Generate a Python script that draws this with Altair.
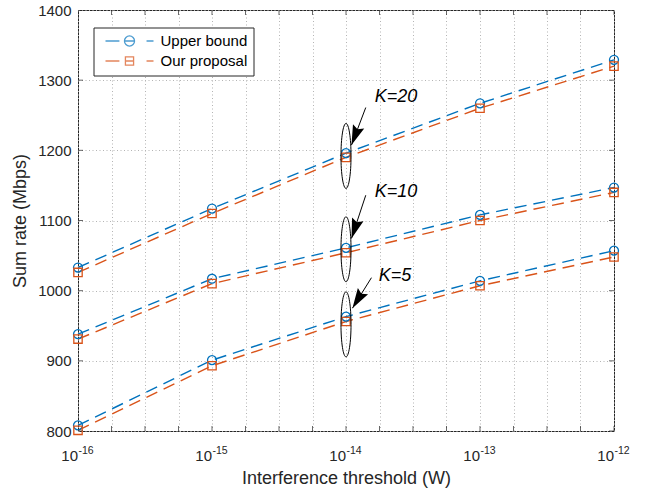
import altair as alt
import pandas as pd

# ---------------- data ----------------
x_exp = [-16, -15, -14, -13, -12]
k_groups = ["K=5", "K=10", "K=20"]
series_names = ["Upper bound", "Our proposal"]
series_colors = ["#0072BD", "#D95319"]

upper_k5 = [808, 901, 963, 1014, 1057]
prop_k5 = [801, 893, 956, 1007, 1048]
upper_k10 = [938, 1017, 1061, 1108, 1147]
prop_k10 = [931, 1010, 1054, 1100, 1140]
upper_k20 = [1033, 1117, 1196, 1267, 1329]
prop_k20 = [1026, 1110, 1190, 1260, 1320]

x_tick_exp = [-16, -15.75, -15.5, -15.25, -15, -14.75, -14.5, -14.25, -14,
              -13.75, -13.5, -13.25, -13, -12.75, -12.5, -12.25, -12]
x_major_exp = [-16, -15, -14, -13, -12]
x_label_base = "10"
x_label_exponents = ["-16", "-15", "-14", "-13", "-12"]
y_ticks = [800, 900, 1000, 1100, 1200, 1300, 1400]

# annotations (data coordinates)
ann_labels = ["K=20", "K=10", "K=5"]
ann_text_exp = [-13.785, -13.785, -13.755]
ann_text_y = [1269, 1133.5, 1014]
arrow_tail_exp = [-13.8525, -13.8525, -13.81]
arrow_tail_y = [1261, 1136, 1018.5]
arrow_tip_exp = [-13.959, -13.959, -13.952]
arrow_tip_y = [1207.5, 1074.5, 975]
arrow_angle = [200.8, 198.3, 211.8]
ellipse_exp = [-14, -14, -14]
ellipse_y = [1192, 1059, 952]

# ---------------- tables ----------------
series_vals = {
    ("K=5", "Upper bound"): upper_k5, ("K=5", "Our proposal"): prop_k5,
    ("K=10", "Upper bound"): upper_k10, ("K=10", "Our proposal"): prop_k10,
    ("K=20", "Upper bound"): upper_k20, ("K=20", "Our proposal"): prop_k20,
}
rows = []
for (k, s), vals in series_vals.items():
    for e, v in zip(x_exp, vals):
        rows.append({"K": k, "series": s, "x": 10.0 ** e, "y": v})
df = pd.DataFrame(rows)

ann_df = pd.DataFrame({
    "label": ann_labels,
    "tx": [10.0 ** e for e in ann_text_exp], "ty": ann_text_y,
    "ax": [10.0 ** e for e in arrow_tail_exp], "ay": arrow_tail_y,
    "hx": [10.0 ** e for e in arrow_tip_exp], "hy": arrow_tip_y,
    "ang": arrow_angle,
    "ex": [10.0 ** e for e in ellipse_exp], "ey": ellipse_y,
})
xt_df = pd.DataFrame({"x": [10.0 ** e for e in x_tick_exp]})
yt_df = pd.DataFrame({"y": y_ticks})
sup_df = pd.DataFrame({"x": [10.0 ** e for e in x_major_exp], "sup": x_label_exponents})

FONT = "Liberation Sans, Arial, DejaVu Sans"
TXT = "#262626"
XTITLE = "Interference threshold (W)"
YTITLE = "Sum rate (Mbps)"

xs = alt.Scale(type="log", domain=[1e-16, 1e-12])
ys = alt.Scale(domain=[800, 1400])
cs = alt.Scale(domain=series_names, range=series_colors)

label_expr = ""
for e in x_major_exp:
    label_expr += f"abs(log(datum.value)/LN10 - ({e})) < 0.01 ? '{x_label_base}' : "
label_expr += "''"

x_axis = alt.Axis(
    values=[10.0 ** e for e in x_tick_exp], labelExpr=label_expr,
    grid=True, gridDash=[1, 2.5], gridColor="#b4b4b4", gridWidth=1,
    ticks=False, tickSize=0, domain=False, labelFlush=False, labelOverlap=False,
    labelAlign="right", labelOffset=-0.5,
    labelFont=FONT, labelFontSize=15, labelColor=TXT, labelPadding=17,
    title=XTITLE, titleFont=FONT, titleFontSize=18,
    titleFontWeight="normal", titleColor=TXT, titlePadding=6,
)
y_axis = alt.Axis(
    values=y_ticks, format="d", grid=True, gridDash=[1, 2.5], gridColor="#b4b4b4",
    gridWidth=1, ticks=False, tickSize=0, domain=False,
    labelFont=FONT, labelFontSize=15, labelColor=TXT, labelPadding=7,
    title=YTITLE, titleFont=FONT, titleFontSize=18,
    titleFontWeight="normal", titleColor=TXT, titlePadding=8,
)


def X(field):
    return alt.X(field, scale=xs, axis=x_axis, title=XTITLE)


def Y(field):
    return alt.Y(field, scale=ys, axis=y_axis, title=YTITLE)


# legend symbol paths: dashed line with marker
r = 0.21
c = r * 0.5523
circle_path = (f"M0,{-r}C{c},{-r} {r},{-c} {r},0C{r},{c} {c},{r} 0,{r}"
               f"C{-c},{r} {-r},{c} {-r},0C{-r},{-c} {-c},{-r} 0,{-r}Z")
leg_up = "M-1,0L-0.42,0M-0.21,0L0.21,0M0.71,0L1,0" + circle_path
q = 0.17
leg_prop = (f"M-1,0L-0.42,0M{-q},0L{q},0M0.71,0L1,0"
            f"M{-q},{-q}L{q},{-q}L{q},{q}L{-q},{q}Z")

leg = alt.Legend(
    title=None, orient="none", legendX=15.5, legendY=17.5,
    symbolSize=2304, clipHeight=15, padding=6, rowPadding=4,
    symbolOffset=5, labelOffset=6, symbolStrokeWidth=1.3,
    labelFont=FONT, labelFontSize=15, labelColor="#000000",
    strokeColor=TXT, fillColor="white",
)

legend_layer = alt.Chart(df).mark_point(size=0, filled=False, strokeWidth=1.3).encode(
    x=X("x:Q"), y=Y("y:Q"),
    color=alt.Color("series:N", scale=cs, legend=leg),
    shape=alt.Shape("series:N", scale=alt.Scale(domain=series_names, range=[leg_up, leg_prop]),
                    legend=leg),
)

lines = alt.Chart(df).mark_line(strokeDash=[12, 7], strokeWidth=1.4).encode(
    x=X("x:Q"), y=Y("y:Q"),
    color=alt.Color("series:N", scale=cs, legend=None),
    detail="K:N",
    order="x:Q",
)

circles = alt.Chart(df).transform_filter(alt.datum.series == "Upper bound").mark_point(
    shape="circle", size=80, filled=False, strokeWidth=1.3, opacity=1
).encode(
    x=X("x:Q"), y=Y("y:Q"),
    color=alt.Color("series:N", scale=cs, legend=None),
)

squares = alt.Chart(df).transform_filter(alt.datum.series == "Our proposal").mark_point(
    shape="square", size=70, filled=False, strokeWidth=1.3, opacity=1
).encode(
    x=X("x:Q"), y=Y("y:Q"),
    color=alt.Color("series:N", scale=cs, legend=None),
)

rx = 0.155
cx = rx * 0.5523
ellipse_path = (f"M0,-1C{cx},-1 {rx},-0.5523 {rx},0C{rx},0.5523 {cx},1 0,1"
                f"C{-cx},1 {-rx},0.5523 {-rx},0C{-rx},-0.5523 {-cx},-1 0,-1Z")

ellipses = alt.Chart(ann_df).mark_point(
    shape=ellipse_path, size=4225, filled=False, color="#000000", strokeWidth=1, opacity=1
).encode(x=X("ex:Q"), y=Y("ey:Q"))

shafts = alt.Chart(ann_df).mark_rule(color="#000000", strokeWidth=1).encode(
    x=X("ax:Q"), y=Y("ay:Q"), x2="hx:Q", y2="hy:Q",
)

heads = alt.Chart(ann_df).mark_point(
    shape="M0,0L0.6,2L0,1.7L-0.6,2Z", size=400, filled=True, color="#000000",
    strokeWidth=0, opacity=1
).encode(
    x=X("hx:Q"), y=Y("hy:Q"),
    angle=alt.Angle("ang:Q", scale=None),
)

texts = alt.Chart(ann_df).mark_text(
    align="left", baseline="alphabetic", fontSize=18, fontStyle="italic",
    font=FONT, color="#000000"
).encode(x=X("tx:Q"), y=Y("ty:Q"), text="label:N")

# superscript exponents of the x tick labels
sups = alt.Chart(sup_df).mark_text(
    align="left", baseline="alphabetic", fontSize=10.5, font=FONT, color=TXT,
    dx=0.5, dy=22.5
).encode(
    x=X("x:Q"),
    y=alt.YDatum(800, scale=ys, axis=y_axis, title=YTITLE),
    text="sup:N",
)


def xticks(at):
    return alt.Chart(xt_df).mark_tick(orient="vertical", size=10, thickness=1,
                                      color=TXT, clip=True).encode(
        x=X("x:Q"), y=alt.YDatum(at, scale=ys, axis=y_axis, title=YTITLE))


def yticks(at):
    return alt.Chart(yt_df).mark_tick(orient="horizontal", size=10, thickness=1,
                                      color=TXT, clip=True).encode(
        y=Y("y:Q"), x=alt.XDatum(at, scale=xs, axis=x_axis, title=XTITLE))


chart = alt.layer(
    legend_layer, lines, circles, squares, ellipses, shafts, heads, texts, sups,
    xticks(800), xticks(1400), yticks(1e-16), yticks(1e-12),
).properties(
    width=536, height=421,
    autosize=alt.AutoSizeParams(type="none"),
    padding={"left": 78, "top": 10, "right": 38, "bottom": 62},
    background="white",
).configure_view(stroke=TXT, strokeWidth=1)

chart.save("out.html", embed_options={"renderer": "svg", "actions": False})
